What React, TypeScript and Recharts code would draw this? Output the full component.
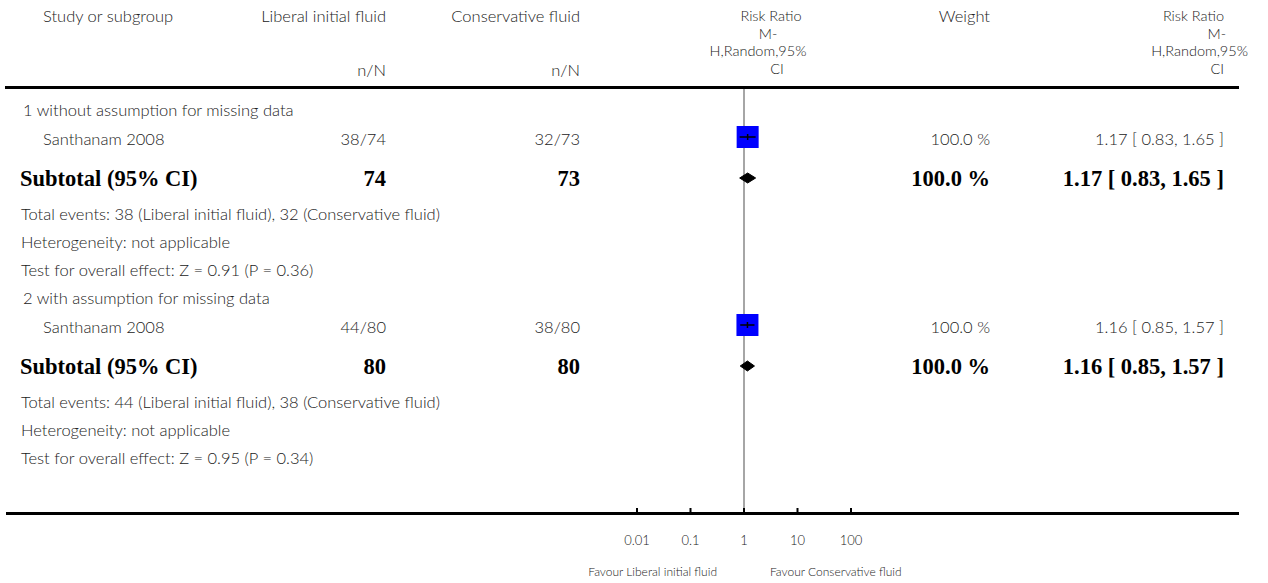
import React from 'react';
import { ComposedChart, XAxis, YAxis, Scatter } from 'recharts';

// Forest plot data, one entry per subgroup
const subgroupTitles = ['1 without assumption for missing data', '2 with assumption for missing data'];
const studyNames = ['Santhanam 2008', 'Santhanam 2008'];
const armLabels = ['Liberal initial fluid', 'Conservative fluid'];
const liberalEvents = [38, 44];
const liberalTotals = [74, 80];
const conservativeEvents = [32, 38];
const conservativeTotals = [73, 80];
const studyWeights = [100.0, 100.0];
const riskRatios = [1.17, 1.16];
const ciLower = [0.83, 0.85];
const ciUpper = [1.65, 1.57];
const zScores = [0.91, 0.95];
const pValues = [0.36, 0.34];
const axisTicks = [0.01, 0.1, 1, 10, 100];
const noEffect = 1;
const effectHeader = ['Risk Ratio', 'M-', 'H,Random,95%', 'CI'];

// Page geometry
const WIDTH = 1268;
const HEIGHT = 583;
const PLOT_LEFT = 637;
const PLOT_RIGHT = 851;
const PLOT_TOP = 88;
const AXIS_Y = 514;
const RULE_LEFT = 5;
const RULE_RIGHT = 1239;

const COL = {
  group: 21,
  study: 43,
  liberal: 386,
  conservative: 580,
  weight: 990,
  ci: 1224,
};

const GROUP_TOP = 110;
const GROUP_STEP = 188;
const ROW = { title: 0, study: 29, subtotal: 69, events: 104, het: 132, test: 160 };

const SQUARE = 22;
const DIAMOND_HALF = 5;

const SANS = '"Lato", "Open Sans", sans-serif';
const SERIF = '"Liberation Serif", "DejaVu Serif", serif';
const BODY_SIZE = 16.5;
const BOLD_SIZE = 22.5;
const HEADER_SIZE = 14.5;
const HEADER_LINE = 17.5;

const rowY = (g: number, key: keyof typeof ROW) => GROUP_TOP + g * GROUP_STEP + ROW[key];
const fmtCI = (i: number) =>
  `${riskRatios[i].toFixed(2)} [ ${ciLower[i].toFixed(2)}, ${ciUpper[i].toFixed(2)} ]`;

type Align = 'left' | 'right' | 'center';

const Txt = ({
  x,
  y,
  align = 'left',
  bold = false,
  size,
  children,
}: {
  x: number;
  y: number;
  align?: Align;
  bold?: boolean;
  size?: number;
  children: React.ReactNode;
}) => {
  const style: React.CSSProperties = {
    position: 'absolute',
    top: y,
    whiteSpace: 'nowrap',
    lineHeight: 1,
    fontFamily: bold ? SERIF : SANS,
    fontWeight: bold ? 700 : 300,
    fontSize: size ?? (bold ? BOLD_SIZE : BODY_SIZE),
    color: bold ? '#000' : '#222',
    transform: align === 'center' ? 'translate(-50%, -50%)' : 'translateY(-50%)',
  };
  if (align === 'right') style.right = WIDTH - x;
  else style.left = x;
  return <div style={style}>{children}</div>;
};

// wrapped four-line column header; shifts nudge single lines sideways
const StackedHeader = ({
  x,
  align,
  shifts,
}: {
  x: number;
  align: 'center' | 'right';
  shifts: number[];
}) => {
  const style: React.CSSProperties = {
    position: 'absolute',
    top: 16 - HEADER_LINE / 2,
    whiteSpace: 'nowrap',
    fontFamily: SANS,
    fontWeight: 300,
    fontSize: HEADER_SIZE,
    color: '#222',
    textAlign: align,
  };
  if (align === 'right') style.right = WIDTH - x;
  else {
    style.left = x;
    style.transform = 'translateX(-50%)';
  }
  return (
    <div style={style}>
      {effectHeader.map((line, i) => (
        <div key={i} style={{ position: 'relative', left: shifts[i], height: HEADER_LINE, lineHeight: `${HEADER_LINE}px` }}>
          {line}
        </div>
      ))}
    </div>
  );
};

const AxisTick = (props: any) => {
  const { x, y, payload } = props;
  return (
    <g>
      <line x1={x} y1={y - 6} x2={x} y2={y} stroke="#000" strokeWidth={2} />
      <text
        x={x}
        y={y + 28}
        textAnchor="middle"
        dominantBaseline="middle"
        fontFamily={SANS}
        fontWeight={300}
        fontSize={13}
        fill="#222"
      >
        {String(payload.value)}
      </text>
    </g>
  );
};

const NoMark = () => <g />;

const StudySquare = (props: any) => {
  const { cx, cy } = props;
  return <rect x={cx - SQUARE / 2} y={cy - SQUARE / 2} width={SQUARE} height={SQUARE} fill="#0000ff" />;
};

// small vertical tick on the point estimate, nothing on the CI ends
const CentreMark = (props: any) => {
  const { cx, cy, payload } = props;
  if (!payload || !payload.mid) return <g />;
  return <line x1={cx} y1={cy - 3} x2={cx} y2={cy + 3} stroke="#000" strokeWidth={1.5} />;
};

export default function App() {
  const groups = subgroupTitles.map((_, i) => i);
  const plotSpan = AXIS_Y - PLOT_TOP;

  // vertical line of no effect, header rule to axis
  const noEffectLine = [
    { x: noEffect, y: 0 },
    { x: noEffect, y: plotSpan },
  ];

  const studyPoints = groups.map((g) => ({ x: riskRatios[g], y: rowY(g, 'study') - PLOT_TOP - 2 }));

  // confidence interval of each study: lower end, estimate, upper end
  const studyCIs = groups.map((g) => {
    const y = rowY(g, 'study') - PLOT_TOP - 2;
    return [
      { x: ciLower[g], y },
      { x: riskRatios[g], y, mid: true },
      { x: ciUpper[g], y },
    ];
  });

  // pooled estimate diamonds traced round: left tip, top, right tip, bottom
  const diamonds = groups.map((g) => {
    const y = rowY(g, 'subtotal') - PLOT_TOP - 1;
    return [
      { x: ciLower[g], y },
      { x: riskRatios[g], y: y - DIAMOND_HALF },
      { x: ciUpper[g], y },
      { x: riskRatios[g], y: y + DIAMOND_HALF },
      { x: ciLower[g], y },
    ];
  });

  return (
    <div style={{ position: 'absolute', left: 0, top: 0, width: WIDTH, height: HEIGHT, background: '#fff' }}>
      <ComposedChart
        width={WIDTH}
        height={HEIGHT}
        margin={{ top: PLOT_TOP, right: WIDTH - PLOT_RIGHT, bottom: 0, left: PLOT_LEFT }}
      >
        <XAxis
          type="number"
          dataKey="x"
          scale="log"
          domain={[0.01, 100]}
          ticks={axisTicks}
          interval={0}
          allowDataOverflow
          height={HEIGHT - AXIS_Y}
          axisLine={false}
          tickLine={false}
          tickSize={0}
          tickMargin={0}
          tick={<AxisTick />}
        />
        <YAxis type="number" dataKey="y" domain={[0, plotSpan]} reversed hide allowDataOverflow />
        <Scatter
          data={noEffectLine}
          line={{ stroke: '#a6a6a6', strokeWidth: 2 }}
          lineType="joint"
          shape={<NoMark />}
          isAnimationActive={false}
        />
        <Scatter data={studyPoints} shape={<StudySquare />} isAnimationActive={false} />
        {studyCIs.map((d, i) => (
          <Scatter
            key={`ci-${i}`}
            data={d}
            line={{ stroke: '#000', strokeWidth: 1.5 }}
            lineType="joint"
            shape={<CentreMark />}
            isAnimationActive={false}
          />
        ))}
        {diamonds.map((d, i) => (
          <Scatter
            key={`dia-${i}`}
            data={d}
            line={{ stroke: '#000', strokeWidth: 1, fill: '#000' }}
            lineType="joint"
            shape={<NoMark />}
            isAnimationActive={false}
          />
        ))}
      </ComposedChart>

      {/* rules */}
      <div style={{ position: 'absolute', left: RULE_LEFT, top: 86, width: RULE_RIGHT - RULE_LEFT, height: 3, background: '#000' }} />
      <div style={{ position: 'absolute', left: RULE_LEFT + 1, top: AXIS_Y - 2, width: RULE_RIGHT - RULE_LEFT - 1, height: 3, background: '#000' }} />

      {/* header */}
      <Txt x={43} y={16}>Study or subgroup</Txt>
      <Txt x={COL.liberal} y={16} align="right">{armLabels[0]}</Txt>
      <Txt x={COL.conservative} y={16} align="right">{armLabels[1]}</Txt>
      <Txt x={COL.liberal} y={70} align="right">n/N</Txt>
      <Txt x={COL.conservative} y={70} align="right">n/N</Txt>
      <StackedHeader x={768} align="center" shifts={[3, 0, -10, 9]} />
      <Txt x={COL.weight} y={16} align="right">Weight</Txt>
      <StackedHeader x={COL.ci} align="right" shifts={[0, 2, 24, 0]} />

      {groups.map((g) => (
        <React.Fragment key={g}>
          <Txt x={COL.group + 2} y={rowY(g, 'title')}>{subgroupTitles[g]}</Txt>

          <Txt x={COL.study} y={rowY(g, 'study')}>{studyNames[g]}</Txt>
          <Txt x={COL.liberal} y={rowY(g, 'study')} align="right">{`${liberalEvents[g]}/${liberalTotals[g]}`}</Txt>
          <Txt x={COL.conservative} y={rowY(g, 'study')} align="right">{`${conservativeEvents[g]}/${conservativeTotals[g]}`}</Txt>
          <Txt x={COL.weight} y={rowY(g, 'study')} align="right">{`${studyWeights[g].toFixed(1)} %`}</Txt>
          <Txt x={COL.ci} y={rowY(g, 'study')} align="right">{fmtCI(g)}</Txt>

          <Txt x={COL.group - 1} y={rowY(g, 'subtotal')} bold>Subtotal (95% CI)</Txt>
          <Txt x={COL.liberal} y={rowY(g, 'subtotal')} align="right" bold>{liberalTotals[g]}</Txt>
          <Txt x={COL.conservative} y={rowY(g, 'subtotal')} align="right" bold>{conservativeTotals[g]}</Txt>
          <Txt x={COL.weight} y={rowY(g, 'subtotal')} align="right" bold>{`${studyWeights[g].toFixed(1)} %`}</Txt>
          <Txt x={COL.ci} y={rowY(g, 'subtotal')} align="right" bold>{fmtCI(g)}</Txt>

          <Txt x={COL.group} y={rowY(g, 'events')}>
            {`Total events: ${liberalEvents[g]} (${armLabels[0]}), ${conservativeEvents[g]} (${armLabels[1]})`}
          </Txt>
          <Txt x={COL.group} y={rowY(g, 'het')}>Heterogeneity: not applicable</Txt>
          <Txt x={COL.group} y={rowY(g, 'test')}>
            {`Test for overall effect: Z = ${zScores[g].toFixed(2)}  (P = ${pValues[g].toFixed(2)})`}
          </Txt>
        </React.Fragment>
      ))}

      {/* favour labels */}
      <Txt x={717} y={572} align="right" size={12}>{`Favour ${armLabels[0]}`}</Txt>
      <Txt x={770} y={572} size={12}>{`Favour ${armLabels[1]}`}</Txt>
    </div>
  );
}
